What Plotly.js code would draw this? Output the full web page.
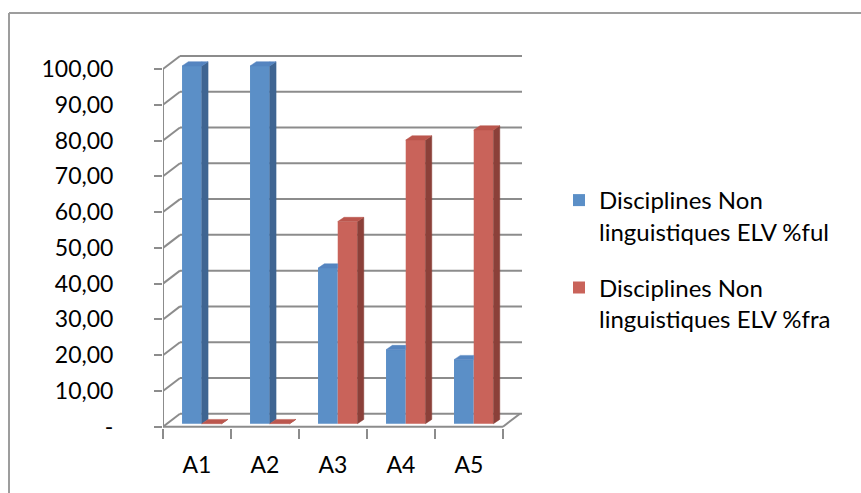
<!DOCTYPE html>
<html><head><meta charset="utf-8">
<script src="https://cdn.plot.ly/plotly-3.0.1.min.js"></script>
<style>html,body{margin:0;padding:0;background:#fff}</style>
</head><body><div id="chart" style="width:861px;height:493px"></div>
<script>
// ---- data ----
const categories = ['A1', 'A2', 'A3', 'A4', 'A5'];
const seriesNames = ['Disciplines Non<br>linguistiques ELV %ful', 'Disciplines Non<br>linguistiques ELV %fra'];
const fulValues = [100, 100, 43.5, 20.7, 17.9];
const fraValues = [0, 0, 56.5, 79.3, 82.1];
const yTickValues = [0, 10, 20, 30, 40, 50, 60, 70, 80, 90, 100];
const yTickLabels = ['-', '10,00', '20,00', '30,00', '40,00', '50,00', '60,00', '70,00', '80,00', '90,00', '100,00'];

// ---- styles ----
const FONT = 'Lato, "Open Sans", sans-serif';
const GRID = '#8c8c8c';
const FRONT = -0.84;   // front wall offset (y units)
const BACK = 2.79;     // back wall offset (y units)
const WALL_DX = 0.25;  // depth offset of walls (x units)
const BAR_DX = 0.093, BAR_DY = 1.2; // bar depth
const M = {l: 163, r: 339, t: 54, b: 65};
const XR = [-0.5, 4.78], YR = [-1.2, 103.35];
const styles = [
  {off: -0.22, w: 0.29, front: '#5b8fc7', top: '#5585c0', side: '#3f6592'},
  {off: 0.07, w: 0.29, front: '#c9635a', top: '#bb564d', side: '#8b4039'}
];
const series = [fulValues, fraValues];

function clip(poly, f) {
  const out = [];
  for (let i = 0; i < poly.length; i++) {
    const a = poly[i], b = poly[(i + 1) % poly.length];
    const fa = f(a), fb = f(b);
    if (fa >= 0) out.push(a);
    if ((fa >= 0) !== (fb >= 0)) {
      const t = fa / (fa - fb);
      out.push([a[0] + t * (b[0] - a[0]), a[1] + t * (b[1] - a[1])]);
    }
  }
  return out;
}

const traces = [];
series.forEach((vals, s) => {
  const st = styles[s];
  traces.push({
    type: 'bar', name: seriesNames[s], x: categories.map((_, i) => i), y: vals,
    offset: st.off, width: st.w, base: 0,
    marker: {color: st.front, line: {width: 0}}, legendgroup: 'g' + s, hoverinfo: 'y'
  });
});
series.forEach((vals, s) => {
  const st = styles[s];
  const sideX = [], sideY = [], topX = [], topY = [];
  const add = (X, Y, poly) => {
    if (poly.length < 3) return;
    poly.forEach(p => { X.push(p[0]); Y.push(p[1]); });
    X.push(poly[0][0]); Y.push(poly[0][1]);
    X.push(null); Y.push(null);
  };
  vals.forEach((v, i) => {
    const xl = i + st.off, xr = xl + st.w;
    const side = [[xr, 0], [xr + BAR_DX, BAR_DY], [xr + BAR_DX, v + BAR_DY], [xr, v]];
    const top = [[xl, v], [xr, v], [xr + BAR_DX, v + BAR_DY], [xl + BAR_DX, v + BAR_DY]];
    if (s === 0) {
      const r = series[1][i];
      add(sideX, sideY, clip(side, p => p[1] - r));
      add(topX, topY, clip(top, p => xr - p[0]));
      add(topX, topY, clip(clip(top, p => p[0] - xr), p => p[1] - r));
    } else {
      add(sideX, sideY, side);
      add(topX, topY, top);
    }
  });
  [[sideX, sideY, st.side], [topX, topY, st.top]].forEach(([X, Y, c]) => {
    traces.push({type: 'scatter', mode: 'lines', x: X, y: Y, fill: 'toself', fillcolor: c,
      line: {color: c, width: 0.5}, showlegend: false, hoverinfo: 'skip', connectgaps: false});
  });
});

// ---- walls / grid shapes ----
const shapes = [];
const ln = (x0, y0, x1, y1, extra) => Object.assign({type: 'line', xref: 'x', yref: 'y', x0, y0, x1, y1,
  line: {color: GRID, width: 2}, layer: 'below'}, extra || {});
yTickValues.forEach(v => {
  shapes.push(ln(XR[0] + WALL_DX, v + BACK, XR[1], v + BACK));
  shapes.push(ln(XR[0], v + FRONT, XR[0] + WALL_DX, v + BACK));
});
shapes.push(ln(XR[0], FRONT, XR[0], 100 + FRONT));
shapes.push(ln(XR[0], FRONT, categories.length - 0.5, FRONT));
shapes.push(ln(categories.length - 0.5, FRONT, categories.length - 0.5 + WALL_DX, BACK));
// chart border
const W = 861, H = 493, pw = W - M.l - M.r, ph = H - M.t - M.b;
const px = x => (x - M.l) / pw, py = y => (H - M.b - y) / ph;
shapes.push({type: 'line', xref: 'paper', yref: 'paper', x0: px(9), y0: py(13), x1: px(W + 5), y1: py(13), line: {color: '#9d9d9d', width: 2}});
shapes.push({type: 'line', xref: 'paper', yref: 'paper', x0: px(9), y0: py(13), x1: px(9), y1: py(H + 5), line: {color: '#9d9d9d', width: 2}});

const layout = {
  width: W, height: H, margin: M, paper_bgcolor: '#fff', plot_bgcolor: 'rgba(0,0,0,0)',
  font: {family: FONT, size: 23, color: '#000'},
  barmode: 'overlay', showlegend: true,
  xaxis: {range: XR, tickvals: categories.map((_, i) => i), ticktext: categories, ticks: '',
    showgrid: false, zeroline: false, showline: false, ticklabelstandoff: 21,
    minor: {tickmode: 'linear', tick0: -0.5, dtick: 1, ticks: 'outside', ticklen: 10, tickwidth: 2, tickcolor: GRID, showgrid: false},
    tickfont: {family: FONT, size: 23}},
  yaxis: {range: YR, tickvals: yTickValues.map(v => v + FRONT), ticktext: yTickLabels, ticks: 'outside',
    ticklen: 8, tickwidth: 2, tickcolor: GRID, showgrid: false, zeroline: false, showline: false,
    ticklabelstandoff: 36, tickfont: {family: FONT, size: 23}},
  legend: {x: px(559), y: py(178), xanchor: 'left', yanchor: 'top', valign: 'top',
    font: {family: FONT, size: 24, color: '#000'}, tracegroupgap: 22, bgcolor: 'rgba(0,0,0,0)'},
  shapes: shapes
};
Plotly.newPlot('chart', traces, layout, {displayModeBar: false, staticPlot: true});
</script></body></html>
